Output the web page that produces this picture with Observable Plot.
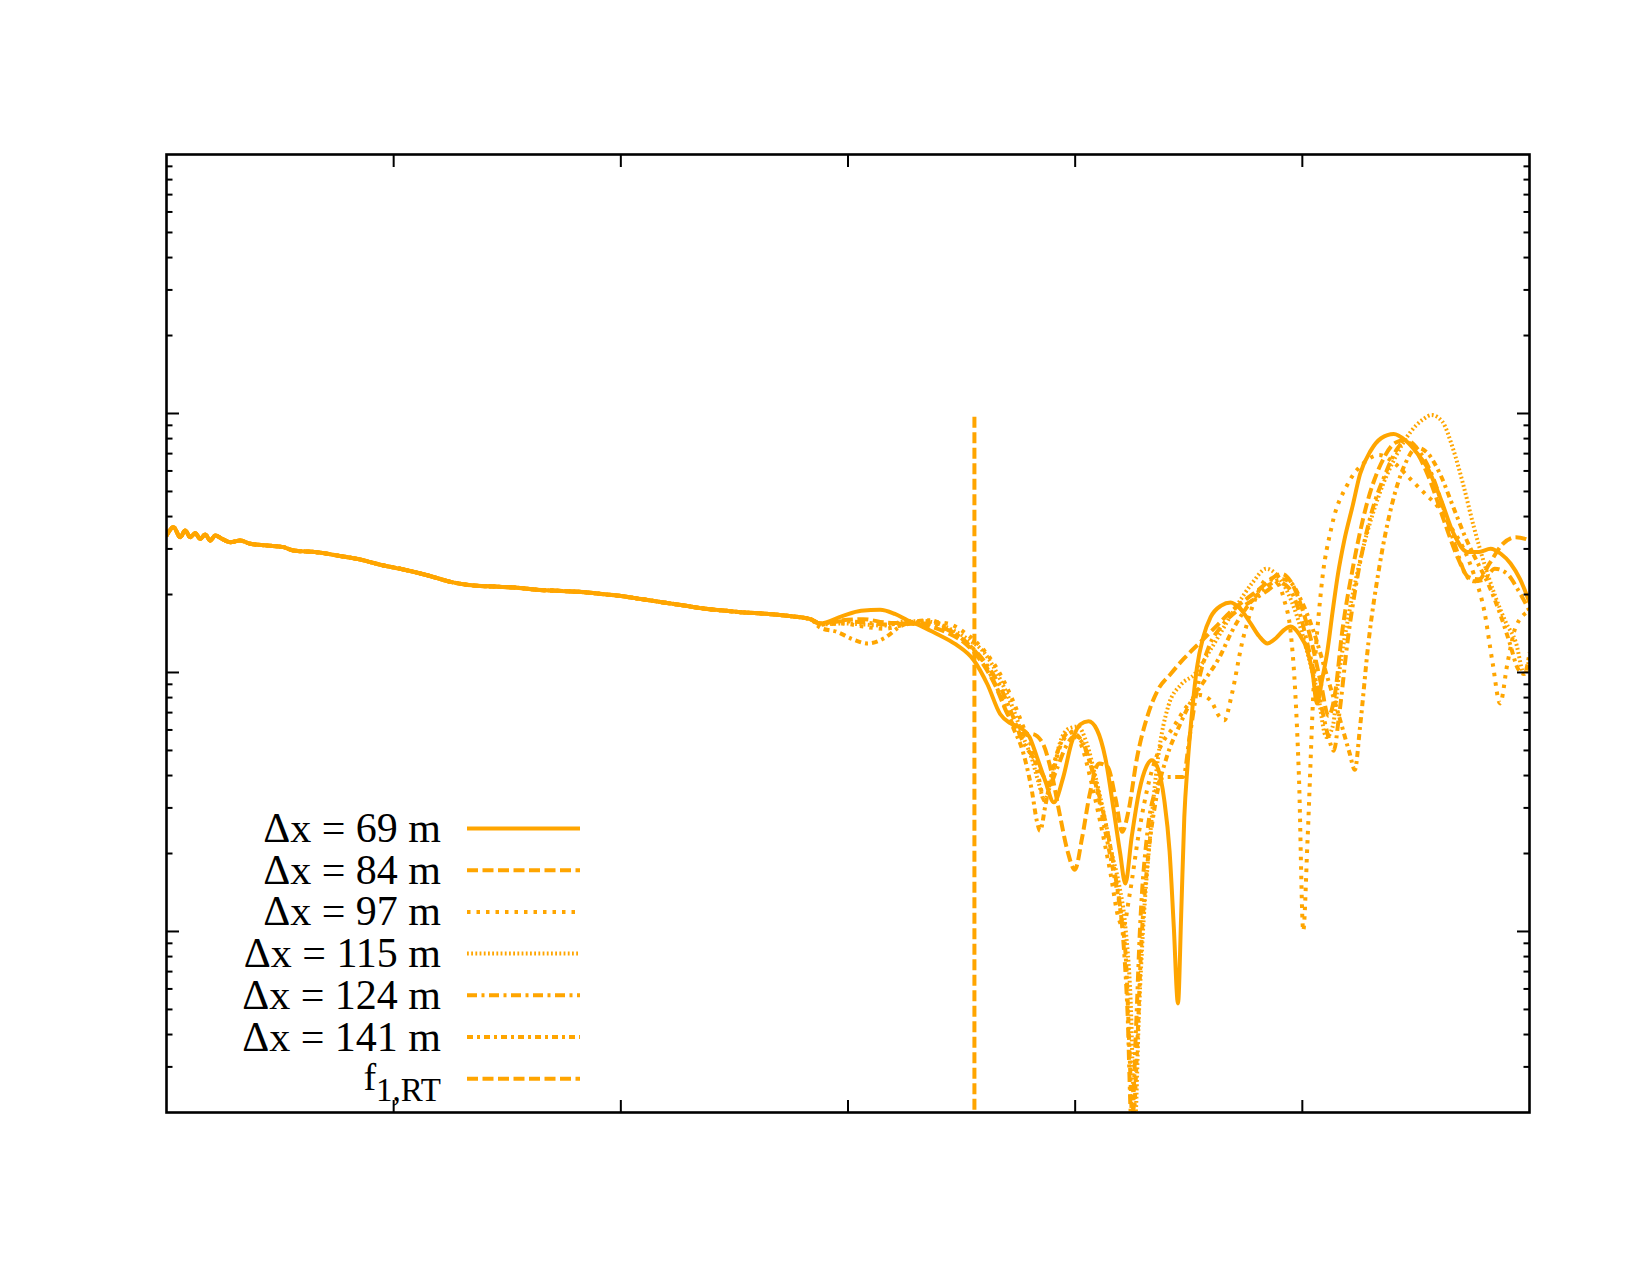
<!DOCTYPE html>
<html><head><meta charset="utf-8">
<script src="https://cdn.jsdelivr.net/npm/d3@7"></script>
<script src="https://cdn.jsdelivr.net/npm/@observablehq/plot@0.6"></script>
<style>
body{margin:0;background:#fff;}
#wrap{position:relative;width:1650px;height:1275px;}
#legend{position:absolute;left:0;top:0;pointer-events:none;}
</style></head><body>
<div id="wrap"></div>
<script>
// legend labels
const seriesNames = ["Δx = 69 m","Δx = 84 m","Δx = 97 m","Δx = 115 m","Δx = 124 m","Δx = 141 m"];
// x in axis units (0..6), value = log10 amplitude
const common = [[0,-0.4710],[0.0310,-0.4388],[0.0602,-0.4774],[0.0825,-0.4519],[0.1047,-0.4774],[0.1265,-0.4620],[0.1483,-0.4840],[0.1705,-0.4673],[0.1927,-0.4905],[0.2145,-0.4710],[0.2442,-0.4840],[0.2808,-0.4970],[0.3243,-0.4905],[0.3688,-0.5031],[0.4420,-0.5096],[0.5152,-0.5161],[0.5592,-0.5291],[0.6621,-0.5356],[0.7506,-0.5482],[0.8386,-0.5612],[0.9558,-0.5868],[1.0286,-0.5994],[1.1518,-0.6254],[1.2603,-0.6522],[1.3529,-0.6644],[1.4456,-0.6684],[1.5429,-0.6725],[1.6309,-0.6806],[1.7236,-0.6847],[1.8163,-0.6887],[1.9367,-0.6989],[2.0016,-0.7050],[2.0943,-0.7172],[2.1869,-0.7294],[2.2796,-0.7416],[2.3722,-0.7538],[2.4649,-0.7619],[2.5275,-0.7672],[2.6502,-0.7741],[2.7429,-0.7822],[2.8356,-0.7944]];
const tail69 = [[2.8773,-0.8107],[2.9746,-0.7822],[3.0580,-0.7619],[3.1414,-0.7578],[3.2063,-0.7741],[3.2618,-0.7985],[3.3267,-0.8228],[3.3916,-0.8513],[3.4750,-0.8919],[3.5537,-0.9529],[3.6140,-1.0464],[3.6696,-1.1602],[3.7159,-1.1967],[3.7576,-1.2130],[3.7993,-1.2495],[3.8317,-1.3267],[3.8688,-1.4202],[3.9059,-1.5015],[3.9476,-1.4039],[3.9846,-1.2698],[4.0217,-1.2008],[4.0588,-1.1886],[4.0958,-1.2211],[4.1329,-1.3308],[4.1700,-1.5340],[4.1978,-1.6966],[4.2209,-1.8144],[4.2487,-1.6356],[4.2812,-1.4608],[4.3136,-1.3633],[4.3368,-1.3389],[4.3646,-1.3714],[4.3924,-1.4934],[4.4155,-1.6885],[4.4341,-1.9810],[4.4526,-2.2777],[4.4665,-1.9404],[4.4804,-1.5583],[4.4943,-1.3633],[4.5128,-1.1683],[4.5360,-0.9814],[4.5638,-0.8635],[4.5962,-0.7863],[4.6426,-0.7416],[4.6843,-0.7294],[4.7260,-0.7538],[4.7723,-0.8107],[4.8094,-0.8594],[4.8464,-0.8879],[4.8835,-0.8676],[4.9206,-0.8350],[4.9484,-0.8228],[4.9854,-0.8513],[5.0225,-0.9163],[5.0457,-1.0057],[5.0642,-1.1195],[5.0874,-1.0260],[5.1105,-0.9163],[5.1337,-0.7619],[5.1569,-0.6197],[5.1847,-0.4896],[5.2217,-0.3556],[5.2542,-0.2336],[5.3005,-0.1443],[5.3468,-0.0955],[5.4024,-0.0792],[5.4534,-0.1036],[5.5044,-0.1524],[5.5507,-0.2093],[5.6063,-0.3230],[5.6665,-0.4652],[5.7268,-0.5344],[5.7777,-0.5344],[5.8287,-0.5222],[5.8750,-0.5425],[5.9167,-0.5790],[5.9584,-0.6400],[6.0,-0.7294]];
const tail84 = [[2.8773,-0.8107],[2.9746,-0.7985],[3.0672,-0.7944],[3.1599,-0.8066],[3.2526,-0.8107],[3.3452,-0.8188],[3.4379,-0.8472],[3.5213,-0.8919],[3.5862,-0.9570],[3.6464,-1.0464],[3.7066,-1.1683],[3.7622,-1.2373],[3.8086,-1.2373],[3.8549,-1.2698],[3.8920,-1.3714],[3.9290,-1.5340],[3.9661,-1.6885],[3.9985,-1.7616],[4.0310,-1.6356],[4.0634,-1.4730],[4.1051,-1.3511],[4.1422,-1.3633],[4.1792,-1.4934],[4.2070,-1.6153],[4.2348,-1.5340],[4.2719,-1.3308],[4.3182,-1.1683],[4.3646,-1.0667],[4.4202,-1.0057],[4.4804,-0.9448],[4.5499,-0.8838],[4.6194,-0.8228],[4.6889,-0.7619],[4.7584,-0.7131],[4.8186,-0.6725],[4.8742,-0.6319],[4.9113,-0.6197],[4.9484,-0.6481],[4.9947,-0.7416],[5.0410,-0.8838],[5.0827,-1.0464],[5.1152,-1.1683],[5.1430,-1.0870],[5.1754,-0.8432],[5.2217,-0.5994],[5.2820,-0.3556],[5.3468,-0.1930],[5.4117,-0.1117],[5.4488,-0.1036],[5.4997,-0.1443],[5.5600,-0.2540],[5.6248,-0.4165],[5.6851,-0.5587],[5.7314,-0.6319],[5.7777,-0.6400],[5.8241,-0.5790],[5.8843,-0.5018],[5.9398,-0.4774],[6.0,-0.4896]];
const tail97 = [[2.8773,-0.8147],[2.9746,-0.8107],[3.0672,-0.8228],[3.1599,-0.8310],[3.2526,-0.8147],[3.3452,-0.8025],[3.4379,-0.8107],[3.5213,-0.8513],[3.6001,-0.9163],[3.6696,-1.0057],[3.7252,-1.1073],[3.7715,-1.2089],[3.8086,-1.2902],[3.8410,-1.4121],[3.8642,-1.4934],[3.8920,-1.4324],[3.9244,-1.3105],[3.9568,-1.2495],[3.9939,-1.2292],[4.0310,-1.2902],[4.0680,-1.4121],[4.1097,-1.5746],[4.1561,-1.7778],[4.1885,-1.9404],[4.2117,-1.9810],[4.2395,-1.8591],[4.2812,-1.6153],[4.3275,-1.4121],[4.3738,-1.2902],[4.4341,-1.2089],[4.4943,-1.1276],[4.5499,-1.0870],[4.5962,-1.1073],[4.6333,-1.1683],[4.6565,-1.1845],[4.6889,-1.0870],[4.7352,-0.8838],[4.7908,-0.7212],[4.8464,-0.6400],[4.8835,-0.6481],[4.9206,-0.7212],[4.9484,-0.8432],[4.9669,-1.0464],[4.9854,-1.4121],[5.0040,-1.9973],[5.0225,-1.6559],[5.0503,-1.0464],[5.0827,-0.6806],[5.1291,-0.4368],[5.1986,-0.2743],[5.2681,-0.1930],[5.3376,-0.1605],[5.4071,-0.1930],[5.4766,-0.2540],[5.5461,-0.3149],[5.5924,-0.3556],[5.6526,-0.4368],[5.7082,-0.5181],[5.7546,-0.6197],[5.8009,-0.7619],[5.8380,-0.9651],[5.8704,-1.1195],[5.9028,-0.9651],[5.9398,-0.8228],[6.0,-0.7619]];
const tail115 = [[2.8773,-0.8147],[2.9746,-0.8107],[3.0672,-0.8147],[3.1599,-0.8188],[3.2526,-0.8025],[3.3452,-0.8025],[3.4379,-0.8269],[3.5213,-0.8676],[3.6001,-0.9245],[3.6696,-1.0260],[3.7252,-1.1358],[3.7715,-1.2495],[3.8086,-1.3308],[3.8410,-1.4324],[3.8642,-1.4934],[3.8966,-1.4121],[3.9337,-1.2698],[3.9707,-1.2170],[4.0124,-1.2089],[4.0495,-1.2698],[4.0866,-1.3917],[4.1236,-1.5340],[4.1607,-1.6966],[4.1931,-1.8185],[4.2209,-1.9810],[4.2441,-2.2655],[4.2626,-2.75],[4.2812,-2.3061],[4.2997,-1.9810],[4.3275,-1.6559],[4.3646,-1.3308],[4.4109,-1.1276],[4.4665,-1.0464],[4.5267,-1.0057],[4.5870,-0.9245],[4.6426,-0.8432],[4.7121,-0.7416],[4.7816,-0.6522],[4.8418,-0.5994],[4.8835,-0.6197],[4.9298,-0.6806],[4.9762,-0.7822],[5.0225,-0.9245],[5.0688,-1.0870],[5.1059,-1.2495],[5.1337,-1.2089],[5.1615,-1.0057],[5.2078,-0.7619],[5.2681,-0.5181],[5.3376,-0.3149],[5.4071,-0.1727],[5.4766,-0.0711],[5.5322,-0.0223],[5.5692,-0.0061],[5.6155,-0.0305],[5.6619,-0.1321],[5.7082,-0.2743],[5.7546,-0.4368],[5.8009,-0.5790],[5.8472,-0.7009],[5.8936,-0.8025],[5.9398,-0.8838],[5.9770,-1.0057],[6.0,-0.9448]];
const tail124 = [[2.8773,-0.8107],[2.9746,-0.8025],[3.0672,-0.8066],[3.1599,-0.8147],[3.2526,-0.8107],[3.3452,-0.8107],[3.4379,-0.8350],[3.5213,-0.8838],[3.6001,-0.9570],[3.6696,-1.0545],[3.7252,-1.1683],[3.7715,-1.2698],[3.8178,-1.3308],[3.8549,-1.3917],[3.8873,-1.4324],[3.9198,-1.3714],[3.9568,-1.2902],[3.9939,-1.2495],[4.0310,-1.2698],[4.0680,-1.3511],[4.1051,-1.4730],[4.1422,-1.6153],[4.1792,-1.7982],[4.2070,-1.9810],[4.2302,-2.3061],[4.2487,-2.75],[4.2673,-2.3874],[4.2858,-1.9810],[4.3182,-1.6153],[4.3553,-1.4527],[4.3924,-1.4039],[4.4341,-1.4039],[4.4758,-1.4039],[4.5036,-1.2495],[4.5406,-1.0464],[4.5870,-0.9041],[4.6426,-0.8228],[4.7121,-0.7619],[4.7816,-0.7212],[4.8511,-0.6806],[4.8974,-0.6522],[4.9391,-0.6725],[4.9854,-0.7619],[5.0318,-0.9245],[5.0780,-1.1073],[5.1152,-1.2495],[5.1383,-1.3023],[5.1615,-1.1683],[5.1986,-0.8838],[5.2449,-0.6197],[5.3005,-0.3962],[5.3653,-0.2336],[5.4210,-0.1321],[5.4580,-0.1036],[5.5136,-0.1443],[5.5692,-0.2336],[5.6248,-0.3759],[5.6758,-0.5181],[5.7175,-0.6197],[5.7546,-0.6481],[5.8009,-0.6400],[5.8472,-0.5994],[5.9028,-0.6197],[5.9492,-0.6806],[6.0,-0.7619]];
const tail141 = [[2.8773,-0.8269],[2.9514,-0.8432],[3.0209,-0.8716],[3.0858,-0.8879],[3.1599,-0.8676],[3.2294,-0.8228],[3.2989,-0.8025],[3.3638,-0.7985],[3.4379,-0.8310],[3.5213,-0.8838],[3.6001,-0.9651],[3.6696,-1.0870],[3.7252,-1.2089],[3.7715,-1.3105],[3.8086,-1.4527],[3.8317,-1.5746],[3.8456,-1.6112],[3.8688,-1.5137],[3.9012,-1.3714],[3.9383,-1.2698],[3.9753,-1.2292],[4.0171,-1.2495],[4.0588,-1.3308],[4.0958,-1.4527],[4.1329,-1.6153],[4.1700,-1.7778],[4.2024,-1.9404],[4.2256,-2.1436],[4.2395,-2.4687],[4.2534,-2.75],[4.2719,-2.4687],[4.2904,-2.0623],[4.3182,-1.7372],[4.3553,-1.4934],[4.4016,-1.3308],[4.4572,-1.2089],[4.5128,-1.1073],[4.5731,-1.0260],[4.6333,-0.9448],[4.6889,-0.8432],[4.7445,-0.7619],[4.8001,-0.7009],[4.8557,-0.6603],[4.9113,-0.6400],[4.9484,-0.6522],[4.9947,-0.7212],[5.0503,-0.8432],[5.1059,-1.0057],[5.1615,-1.1683],[5.2078,-1.3105],[5.2310,-1.3755],[5.2542,-1.2089],[5.2912,-0.8838],[5.3376,-0.5994],[5.3932,-0.3556],[5.4534,-0.1930],[5.5044,-0.1321],[5.5507,-0.1524],[5.6063,-0.2336],[5.6619,-0.3556],[5.7175,-0.4774],[5.7731,-0.5790],[5.8194,-0.6603],[5.8658,-0.7619],[5.9121,-0.8838],[5.9492,-0.9854],[5.9770,-1.0057],[6.0,-0.9245]];
// f_1,RT marker
const fRTx = 3.5565;
const fRTtop = -0.012;
const fRTbottom = -2.75;
// tick values
const xTicks = [1, 2, 3, 4, 5];
const yDecades = [-2, -1, 0];
const yMinorMult = [2, 3, 4, 5, 6, 7, 8, 9];

const ORANGE = "#FFA500";
const LW = 4;
const dashes = ["none", "11,4.5", "3.5,6", "1.8,2.4", "10,4.5,3,4.5", "6,4,3,4", "11,4.5"];
const tails = [tail69, tail84, tail97, tail115, tail124, tail141];
const yBottom = Math.log10(0.002);

const rows = [];
tails.forEach((t, i) => {
  common.concat(t).forEach(([x, v]) => rows.push({name: seriesNames[i], x, v}));
});

const yMinor = [];
for (const n of [-3, -2, -1, 0]) for (const k of yMinorMult) {
  const v = n + Math.log10(k);
  if (v > yBottom + 1e-6 && v < 1) yMinor.push(v);
}

const lineMarks = seriesNames.map((name, i) => Plot.line(rows.filter(r => r.name === name), {
  x: "x", y: "v", stroke: ORANGE, strokeWidth: LW, curve: "monotone-x",
  strokeDasharray: dashes[i] === "none" ? null : dashes[i],
  strokeLinecap: i === 0 ? "round" : "butt", strokeLinejoin: "round", clip: true
}));

const tickStyle = {stroke: "black", strokeWidth: 2, tickFormat: () => "", label: null};
const plot = Plot.plot({
  width: 1650, height: 1275,
  marginLeft: 166, marginRight: 121, marginTop: 154, marginBottom: 163,
  x: {domain: [0, 6], axis: null},
  y: {domain: [yBottom, 1], axis: null},
  style: {background: "white"},
  marks: [
    ...lineMarks.slice().reverse(),
    Plot.ruleX([fRTx], {y1: fRTbottom, y2: fRTtop, stroke: ORANGE, strokeWidth: LW, strokeDasharray: dashes[6], clip: true}),
    Plot.axisX({...tickStyle, ticks: xTicks, anchor: "bottom", tickSize: 12, dy: -12}),
    Plot.axisX({...tickStyle, ticks: xTicks, anchor: "top", tickSize: 12, dy: 12}),
    Plot.axisY({...tickStyle, ticks: yDecades, anchor: "left", tickSize: 13, dx: 13}),
    Plot.axisY({...tickStyle, ticks: yMinor, anchor: "left", tickSize: 6.5, dx: 6.5}),
    Plot.axisY({...tickStyle, ticks: yDecades, anchor: "right", tickSize: 13, dx: -13}),
    Plot.axisY({...tickStyle, ticks: yMinor, anchor: "right", tickSize: 6.5, dx: -6.5}),
    Plot.frame({stroke: "black", strokeWidth: 2.6})
  ]
});
const wrap = document.getElementById("wrap");
wrap.appendChild(plot);

// legend overlay
const NS = "http://www.w3.org/2000/svg";
const leg = document.createElementNS(NS, "svg");
leg.setAttribute("id", "legend");
leg.setAttribute("width", 1650); leg.setAttribute("height", 1275);
const legendLabels = seriesNames.concat(["f"]);
legendLabels.forEach((lab, i) => {
  const cy = 828.5 + i * 41.7;
  const t = document.createElementNS(NS, "text");
  t.setAttribute("x", 441); t.setAttribute("y", i < 6 ? cy + 13.5 : cy + 11);
  t.setAttribute("text-anchor", "end");
  t.setAttribute("font-family", "'Liberation Serif', 'Times New Roman', serif");
  t.setAttribute("font-size", i < 6 ? 42 : 38);
  t.setAttribute("fill", "black");
  if (i < 6) t.textContent = lab;
  else {
    const a = document.createElementNS(NS, "tspan"); a.textContent = "f";
    const b = document.createElementNS(NS, "tspan"); b.textContent = "1,RT";
    b.setAttribute("font-size", 33); b.setAttribute("dy", 11);
    t.appendChild(a); t.appendChild(b);
  }
  leg.appendChild(t);
  const l = document.createElementNS(NS, "line");
  l.setAttribute("x1", 467); l.setAttribute("x2", 580);
  l.setAttribute("y1", cy); l.setAttribute("y2", cy);
  l.setAttribute("stroke", ORANGE); l.setAttribute("stroke-width", LW);
  if (dashes[i] !== "none") { l.setAttribute("stroke-dasharray", dashes[i]); }
  leg.appendChild(l);
});
wrap.appendChild(leg);
</script>
</body></html>
